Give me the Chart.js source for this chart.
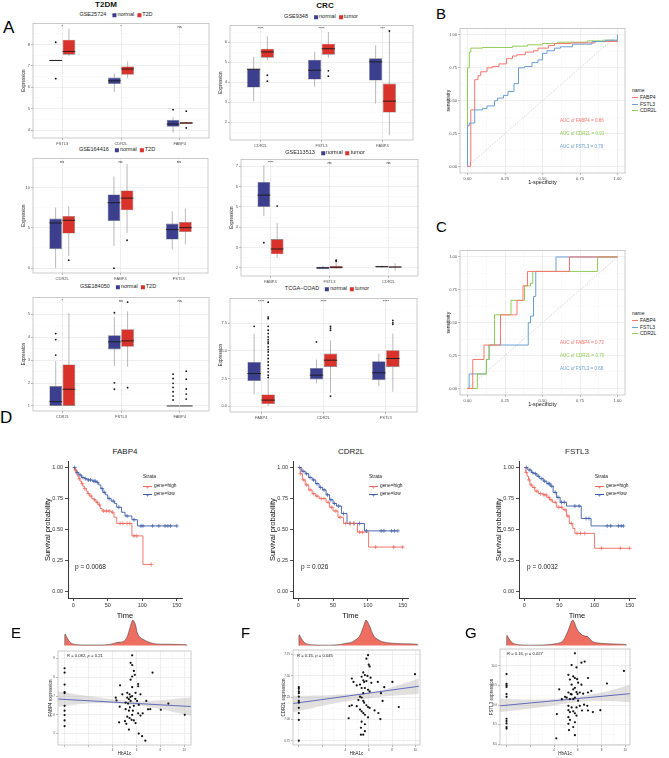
<!DOCTYPE html>
<html>
<head>
<meta charset="utf-8">
<script src="https://cdn.jsdelivr.net/npm/chart.js@4.4.1/dist/chart.umd.min.js"></script>
<style>
body{margin:0;background:#fff;font-family:'Liberation Sans',Arial,sans-serif}
#fig{position:relative;width:669px;height:758px;overflow:hidden;background:#fff}
#fig canvas{position:absolute}
.t{position:absolute;line-height:1;white-space:nowrap;color:#111}
.sq{display:inline-block;width:4px;height:4px;margin:0 1px 0 3px;vertical-align:middle}
.ln{position:absolute;height:0}
</style>
</head>
<body>
<div id="fig"></div>
<script>
// ---------- box plot data: [min, q1, median, q3, max] ----------
const gse25724Cats = ['FSTL3', 'CDR2L', 'FABP4'];
const gse25724Normal = [[7.22, 7.22, 7.25, 7.28, 7.28], [5.78, 6.15, 6.3, 6.45, 6.64], [3.88, 4.15, 4.28, 4.47, 4.6]];
const gse25724Case = [[7.45, 7.52, 7.67, 8.22, 8.73], [6.42, 6.58, 6.85, 6.97, 7.2], [4.28, 4.28, 4.33, 4.38, 4.38]];
const gse25724NormalOut = [[8.1, 6.4], [], [4.95]];
const gse25724CaseOut = [[], [], [4.88, 4.1]];
const gse25724Sig = ['*', '*', 'ns'];

const gse9348Cats = ['CDR2L', 'FSTL3', 'FABP4'];
const gse9348Normal = [[3.05, 3.73, 4.65, 4.68, 5.27], [3.77, 4.13, 4.6, 5.13, 5.52], [2.93, 4.08, 5.02, 5.2, 5.85]];
const gse9348Case = [[5.1, 5.23, 5.52, 5.68, 6.3], [5.22, 5.38, 5.68, 5.93, 6.52], [1.35, 2.48, 3.05, 3.93, 6.52]];
const gse9348NormalOut = [[], [], []];
const gse9348CaseOut = [[4.35, 4.05], [4.57, 4.3], [6.57]];
const gse9348Sig = ['****', '****', '***'];

const gse164416Cats = ['CDR2L', 'FABP4', 'FSTL3'];
const gse164416Normal = [[0, 2.35, 5.6, 6.14, 7.5], [2.72, 5.84, 8.11, 9.14, 11.36], [2.31, 3.54, 4.78, 5.52, 7.04]];
const gse164416Case = [[1.48, 4.28, 5.93, 6.46, 7.65], [4.36, 7.16, 8.68, 9.63, 12.9], [2.96, 4.48, 5.02, 5.72, 7.37]];
const gse164416NormalOut = [[], [0], []];
const gse164416CaseOut = [[0.99], [3.46], []];
const gse164416Sig = ['ns', 'ns', 'ns'];

const gse113513Cats = ['FABP4', 'FSTL3', 'CDR2L'];
const gse113513Normal = [[4.55, 5.0, 5.58, 6.23, 7.05], [1.92, 1.94, 2.0, 2.06, 2.1], [1.98, 2.02, 2.06, 2.1, 2.12]];
const gse113513Case = [[2.5, 2.67, 2.93, 3.42, 4.22], [1.95, 1.97, 2.03, 2.1, 2.26], [1.87, 2.0, 2.04, 2.08, 2.23]];
const gse113513NormalOut = [[3.24], [], []];
const gse113513CaseOut = [[5.04], [2.38, 2.32], []];
const gse113513Sig = ['****', 'ns', 'ns'];

const gse184050Cats = ['CDR2L', 'FSTL3', 'FABP4'];
const gse184050Normal = [[1.0, 1.0, 1.19, 1.87, 2.96], [2.74, 3.47, 3.8, 4.09, 4.88], [1, 1, 1, 1, 1]];
const gse184050Case = [[1.0, 1.0, 1.73, 2.81, 5.06], [2.71, 3.58, 3.84, 4.35, 5.13], [1, 1, 1, 1, 1]];
const gse184050NormalOut = [[3.22, 3.9, 4.16], [5.07, 2.01, 1.73], [1.26, 1.43, 1.62, 1.81, 1.99, 2.2, 2.39]];
const gse184050CaseOut = [[], [5.53, 1.8], [1.3, 1.52, 1.74, 2.17, 2.52]];
const gse184050Sig = ['*', 'ns', 'ns'];

const tcgaCats = ['FABP4', 'CDR2L', 'FSTL3'];
const tcgaNormal = [[1.05, 2.26, 2.95, 4.0, 6.57], [2.05, 2.41, 2.8, 3.46, 4.22], [1.81, 2.35, 3.01, 4.07, 4.76]];
const tcgaCase = [[0, 0.18, 0.54, 1.05, 2.41], [1.2, 3.55, 4.16, 4.76, 5.96], [1.29, 3.55, 4.31, 5.06, 6.57]];
const tcgaNormalOut = [[7.23], [5.81], []];
const tcgaCaseOut = [[2.59, 2.8, 3.1, 3.4, 3.7, 4.0, 4.31, 4.61, 4.91, 5.12, 5.36, 5.66, 5.81, 6.02, 6.27, 6.57, 6.87, 7.23, 7.92, 8.07, 9.42], [7.07, 6.87, 7.23, 0.9], [7.77, 7.56, 7.41]];
const tcgaSig = ['****', '****', '****'];

// ---------- ROC curves: [1-specificity, sensitivity] ----------
const rocGenes = ['FABP4', 'FSTL3', 'CDR2L'];
const rocBFabp4 = [[0, 0], [0.02, 0.04], [0.022, 0.43], [0.048, 0.66], [0.07, 0.69], [0.088, 0.72], [0.13, 0.75], [0.165, 0.76], [0.21, 0.78], [0.26, 0.82], [0.3, 0.84], [0.33, 0.85], [0.385, 0.87], [0.44, 0.88], [0.47, 0.9], [0.54, 0.92], [0.58, 0.935], [0.69, 0.94], [0.85, 0.95], [1, 1]];
const rocBFstl3 = [[0, 0], [0, 0.31], [0.012, 0.33], [0.048, 0.43], [0.1, 0.44], [0.13, 0.46], [0.18, 0.5], [0.2, 0.52], [0.24, 0.54], [0.27, 0.57], [0.31, 0.63], [0.34, 0.75], [0.38, 0.76], [0.43, 0.79], [0.47, 0.81], [0.5, 0.86], [0.53, 0.88], [0.58, 0.9], [0.62, 0.91], [0.7, 0.93], [0.83, 0.95], [0.92, 0.96], [1, 1]];
const rocBCdr2l = [[0, 0], [0, 0.75], [0.012, 0.87], [0.022, 0.9], [0.1, 0.905], [0.3, 0.915], [0.4, 0.925], [0.5, 0.935], [0.6, 0.945], [0.8, 0.955], [0.9, 0.96], [1, 1]];
const rocCFabp4 = [[0, 0], [0.035, 0.22], [0.11, 0.33], [0.22, 0.56], [0.33, 0.67], [0.37, 0.78], [0.4, 0.89], [0.68, 1], [1, 1]];
const rocCFstl3 = [[0, 0], [0.011, 0.11], [0.126, 0.22], [0.144, 0.33], [0.405, 0.5], [0.42, 0.55], [0.44, 0.7], [0.455, 0.89], [0.59, 1], [1, 1]];
const rocCCdr2l = [[0, 0], [0.066, 0.11], [0.126, 0.22], [0.144, 0.33], [0.18, 0.56], [0.29, 0.67], [0.38, 0.78], [0.42, 0.8], [0.435, 0.89], [0.867, 1], [1, 1]];
const rocDiag = [[0, 0], [1, 1]];
const aucLabels = ['FABP4', 'CDR2L', 'FSTL3'];
const aucB = ['0.86', '0.93', '0.78'];
const aucC = ['0.73', '0.70', '0.68'];

// ---------- Kaplan-Meier: [time, survival] ----------
const kmFabp4High = [[0, 1], [2, 0.98], [4, 0.95], [6, 0.93], [8, 0.91], [10, 0.89], [12, 0.87], [14, 0.85], [16, 0.83], [19, 0.81], [21, 0.79], [24, 0.77], [27, 0.75], [30, 0.74], [33, 0.72], [36, 0.7], [39, 0.67], [42, 0.65], [55, 0.64], [59, 0.6], [63, 0.55], [85, 0.45], [101, 0.22], [113, 0.22]];
const kmFabp4Low = [[0, 1], [3, 0.98], [5, 0.96], [8, 0.94], [12, 0.92], [16, 0.91], [20, 0.9], [28, 0.89], [34, 0.88], [37, 0.86], [40, 0.83], [43, 0.8], [47, 0.78], [50, 0.75], [55, 0.73], [60, 0.71], [63, 0.68], [70, 0.64], [75, 0.61], [85, 0.58], [93, 0.53], [150, 0.53]];
const kmFabp4HighCens = [[3, 0.98], [9, 0.91], [13, 0.87], [17, 0.83], [22, 0.79], [26, 0.77], [31, 0.74], [35, 0.72], [38, 0.7], [44, 0.65], [48, 0.65], [52, 0.65], [57, 0.64], [68, 0.55], [72, 0.55], [78, 0.55], [82, 0.55], [88, 0.45], [92, 0.45], [113, 0.22]];
const kmFabp4LowCens = [[2, 1], [6, 0.96], [10, 0.94], [14, 0.92], [18, 0.91], [22, 0.9], [25, 0.9], [30, 0.89], [32, 0.89], [35, 0.88], [42, 0.83], [45, 0.8], [52, 0.75], [58, 0.73], [66, 0.68], [78, 0.61], [88, 0.58], [98, 0.53], [101, 0.53], [115, 0.53], [124, 0.53], [133, 0.53], [137, 0.53], [141, 0.53], [150, 0.53]];

const kmCdr2lHigh = [[0, 1], [3, 0.95], [6, 0.9], [10, 0.86], [15, 0.82], [20, 0.79], [25, 0.77], [30, 0.75], [40, 0.72], [45, 0.68], [50, 0.65], [57, 0.6], [65, 0.55], [85, 0.48], [101, 0.36], [150, 0.36]];
const kmCdr2lLow = [[0, 1], [5, 0.97], [10, 0.95], [15, 0.92], [20, 0.9], [25, 0.87], [30, 0.84], [35, 0.82], [40, 0.78], [45, 0.74], [50, 0.71], [55, 0.69], [62, 0.63], [70, 0.55], [95, 0.49], [143, 0.49]];
const kmCdr2lHighCens = [[3, 0.95], [8, 0.9], [12, 0.86], [17, 0.82], [22, 0.79], [27, 0.77], [33, 0.75], [37, 0.75], [43, 0.72], [48, 0.68], [54, 0.65], [60, 0.6], [68, 0.55], [75, 0.55], [80, 0.55], [88, 0.48], [92, 0.48], [111, 0.36], [137, 0.36], [150, 0.36]];
const kmCdr2lLowCens = [[2, 1], [7, 0.97], [12, 0.95], [17, 0.92], [22, 0.9], [27, 0.87], [32, 0.84], [37, 0.82], [42, 0.78], [47, 0.74], [52, 0.71], [58, 0.69], [65, 0.63], [74, 0.55], [80, 0.55], [88, 0.55], [98, 0.49], [119, 0.49], [123, 0.49], [134, 0.49], [138, 0.49], [143, 0.49]];

const kmFstl3High = [[0, 1], [2, 0.96], [4, 0.93], [6, 0.9], [8, 0.86], [11, 0.84], [15, 0.81], [20, 0.79], [27, 0.78], [32, 0.76], [36, 0.74], [40, 0.72], [46, 0.68], [55, 0.66], [60, 0.61], [64, 0.55], [69, 0.51], [72, 0.47], [100, 0.35], [150, 0.35]];
const kmFstl3Low = [[0, 1], [5, 0.98], [10, 0.96], [13, 0.95], [18, 0.93], [22, 0.91], [27, 0.89], [32, 0.87], [37, 0.85], [41, 0.8], [46, 0.76], [51, 0.72], [60, 0.69], [81, 0.59], [95, 0.53], [141, 0.53]];
const kmFstl3HighCens = [[3, 0.96], [7, 0.9], [10, 0.86], [14, 0.84], [18, 0.81], [23, 0.79], [28, 0.78], [31, 0.78], [35, 0.76], [38, 0.74], [44, 0.72], [49, 0.68], [53, 0.68], [58, 0.66], [62, 0.61], [67, 0.55], [75, 0.47], [80, 0.47], [86, 0.47], [110, 0.35], [137, 0.35], [150, 0.35]];
const kmFstl3LowCens = [[3, 1], [8, 0.98], [12, 0.96], [16, 0.95], [20, 0.93], [25, 0.91], [29, 0.89], [34, 0.87], [36, 0.87], [39, 0.85], [44, 0.8], [48, 0.76], [53, 0.72], [57, 0.72], [72, 0.69], [78, 0.69], [88, 0.59], [92, 0.59], [118, 0.53], [123, 0.53], [134, 0.53], [138, 0.53], [141, 0.53]];

// ---------- correlation panels: [HbA1c, expression] ----------
const corrEPts = [[0, 8.48], [0, 8.25], [0, 7.61], [0, 7.21], [0, 7.16], [0, 6.48], [0, 6.22], [0, 5.99], [0, 5.7], [0, 5.4],
  [5.64, 9.17], [5.51, 8.77], [5.64, 8.65], [5.78, 8.34], [5.86, 8.13], [5.64, 8.04], [7.34, 8.25], [5.51, 7.87], [6.14, 7.64], [4.63, 7.57],
  [6.14, 7.52], [5.64, 7.47], [5.23, 7.17], [5.42, 7.09], [5.92, 7.17], [6.33, 7.09], [5.23, 6.91], [5.37, 6.83], [5.51, 6.74], [5.64, 7.0],
  [4.27, 6.91], [4.33, 6.77], [6.05, 6.74], [6.82, 6.74], [4.6, 6.43], [5.1, 6.3], [5.37, 6.22], [5.7, 6.22], [6.14, 6.08], [6.96, 6.29],
  [7.15, 6.3], [8.03, 6.27], [8.66, 6.6], [10.03, 6.0], [5.64, 6.0], [5.23, 5.9], [5.42, 5.83], [5.59, 5.73], [5.78, 5.7], [5.04, 5.66],
  [5.15, 5.52], [4.55, 5.6], [5.92, 5.56], [6.33, 5.96], [6.52, 6.08], [5.37, 5.21], [6.19, 5.0], [6.47, 4.86], [6.74, 4.62], [5.1, 6.65],
  [5.78, 6.48], [6.19, 6.53], [4.82, 7.09], [5.5, 6.95], [5.3, 6.6], [5.9, 6.85], [5.45, 6.4]];
const corrEFit = [[-0.55, 6.84], [10.55, 6.44]];
const corrEHi = [[-0.55, 7.26], [2, 7.0], [5.6, 6.74], [8, 6.78], [10.55, 6.93]];
const corrELo = [[-0.55, 6.43], [2, 6.6], [5.6, 6.53], [8, 6.3], [10.55, 5.95]];
const densETop = [[0, 0], [0.02, 0.45], [0.2, 0.3], [0.5, 0.1], [1, 0.03], [2, 0.02], [3, 0.02], [3.8, 0.05], [4.3, 0.12], [4.8, 0.15], [5.1, 0.3], [5.4, 0.75], [5.6, 1.0], [5.8, 0.85], [6.0, 0.45], [6.3, 0.28], [6.6, 0.2], [7.0, 0.12], [7.5, 0.06], [8.5, 0.05], [9.5, 0.04], [10, 0.03], [10.05, 0]];
const densESide = [[9.17, 0], [8.65, 0.11], [7.78, 0.28], [7.43, 0.5], [7.09, 0.83], [6.83, 1.0], [6.57, 0.94], [6.22, 0.81], [5.96, 0.81], [5.7, 0.61], [5.35, 0.39], [5.0, 0.19], [4.65, 0.02]];

const corrFPts = [[0, 7.37], [0, 7.35], [0, 7.32], [0, 7.3], [0, 7.26], [0, 7.21], [0, 7.19], [0, 7.13], [0, 7.07], [0, 6.99], [0, 6.75],
  [5.94, 7.74], [5.8, 7.7], [6.0, 7.63], [6.08, 7.61], [5.53, 7.54], [5.67, 7.51], [5.39, 7.49], [5.89, 7.5], [6.16, 7.48], [5.53, 7.45],
  [5.61, 7.43], [5.8, 7.44], [4.55, 7.47], [4.69, 7.43], [5.25, 7.4], [4.97, 7.39], [6.22, 7.42], [6.78, 7.43], [8.03, 7.43], [5.39, 7.36],
  [5.67, 7.36], [5.94, 7.34], [6.08, 7.32], [5.53, 7.3], [5.25, 7.26], [5.39, 7.25], [5.11, 7.22], [5.53, 7.21], [5.61, 7.19], [5.8, 7.16],
  [4.97, 7.15], [4.35, 7.15], [4.55, 7.16], [5.94, 7.14], [6.08, 7.13], [5.25, 7.11], [5.39, 7.09], [5.53, 7.07], [5.67, 7.05], [6.5, 7.1],
  [6.83, 7.07], [7.19, 7.21], [7.05, 7.3], [7.33, 7.37], [8.58, 7.14], [9.97, 7.52], [4.28, 7.01], [5.94, 7.02], [5.39, 6.97], [5.67, 6.94],
  [7.0, 7.0], [5.33, 6.9], [5.67, 6.86], [5.53, 6.82], [5.33, 6.82]];
const corrFFit = [[-0.5, 7.18], [10.3, 7.38]];
const corrFHi = [[-0.5, 7.27], [3, 7.28], [6, 7.31], [8, 7.37], [10.3, 7.47]];
const corrFLo = [[-0.5, 7.08], [3, 7.18], [6, 7.24], [8, 7.27], [10.3, 7.29]];
const densFTop = [[0, 0], [0.02, 0.42], [0.2, 0.28], [0.5, 0.1], [1, 0.03], [3, 0.02], [4.2, 0.1], [4.55, 0.15], [5.1, 0.35], [5.5, 0.8], [5.67, 1.0], [5.94, 0.8], [6.36, 0.35], [7.05, 0.15], [8.2, 0.08], [10, 0.05], [10.05, 0]];
const densFSide = [[7.74, 0], [7.62, 0.15], [7.51, 0.45], [7.39, 0.8], [7.28, 1.0], [7.17, 0.9], [7.05, 0.6], [6.94, 0.3], [6.82, 0.1], [6.75, 0.01]];

const corrGPts = [[0, 9.79], [0, 9.54], [0, 9.5], [0, 9.46], [0, 9.28], [0, 9.21], [0, 8.65], [0, 8.59], [0, 8.53], [0, 8.44], [0, 8.4],
  [5.76, 10.32], [5.48, 10.02], [5.89, 9.96], [6.31, 10.08], [6.58, 10.11], [5.21, 9.77], [5.62, 9.73], [5.76, 9.69], [5.95, 9.66], [6.86, 9.69],
  [5.34, 9.65], [5.48, 9.52], [6.03, 9.57], [6.31, 9.52], [5.76, 9.44], [5.62, 9.4], [5.21, 9.32], [5.4, 9.28], [5.48, 9.27], [5.89, 9.33],
  [5.98, 9.28], [6.17, 9.32], [6.45, 9.29], [6.86, 9.32], [7.14, 9.36], [8.46, 9.55], [9.89, 9.87], [4.44, 9.4], [4.93, 9.21], [5.07, 9.19],
  [5.34, 9.15], [5.62, 9.15], [5.76, 9.19], [6.03, 9.11], [4.66, 9.15], [5.21, 8.98], [5.48, 8.94], [5.89, 8.94], [6.17, 8.98], [6.53, 9.01],
  [6.8, 8.98], [5.21, 8.87], [5.34, 8.82], [5.62, 8.84], [5.76, 8.79], [5.89, 8.73], [6.36, 8.86], [6.86, 8.86], [7.27, 8.82], [7.9, 8.87],
  [4.24, 8.77], [5.21, 8.69], [5.34, 8.62], [5.21, 8.52], [5.76, 8.56], [5.62, 8.44], [5.26, 8.36], [5.76, 8.23], [4.19, 8.15]];
const corrGFit = [[-0.55, 8.98], [10.4, 9.29]];
const corrGHi = [[-0.55, 9.16], [3, 9.14], [5.5, 9.2], [8, 9.32], [10.4, 9.52]];
const corrGLo = [[-0.55, 8.82], [3, 8.95], [5.5, 9.06], [8, 9.1], [10.4, 9.07]];
const densGTop = [[0, 0], [0.02, 0.4], [0.2, 0.26], [0.5, 0.1], [1, 0.03], [3, 0.02], [4.2, 0.08], [4.66, 0.18], [5.07, 0.55], [5.48, 1.0], [5.89, 0.6], [6.3, 0.4], [6.72, 0.35], [7.14, 0.15], [8, 0.08], [9.9, 0.04], [9.95, 0]];
const densGSide = [[10.32, 0], [10.02, 0.1], [9.78, 0.35], [9.53, 0.7], [9.28, 1.0], [9.11, 0.95], [8.86, 0.65], [8.61, 0.35], [8.36, 0.12], [8.15, 0.01]];

// ---------- styling ----------
const NAVY = '#3c3f8d', RED = '#d8322b';
const KM_RED = '#ef6a5e', KM_BLUE = '#3d5ea9';
const ROC_RED = '#f8766d', ROC_BLUE = '#6b9fd3', ROC_GREEN = '#92cc56';
const DENS_RED = '#ee6e62', DENS_BLUE = '#383d88';

Chart.defaults.font.family = "'Liberation Sans', Arial, sans-serif";
Chart.defaults.animation = false;
Chart.defaults.responsive = false;
Chart.defaults.plugins.legend.display = false;
Chart.defaults.plugins.tooltip.enabled = false;
Chart.defaults.color = '#4d4d4d';

const framePlugin = {
  id: 'frame',
  afterDatasetsDraw(chart, args, opts) {
    if (!opts.color) return;
    const a = chart.chartArea, ctx = chart.ctx;
    ctx.save();
    ctx.strokeStyle = opts.color;
    ctx.lineWidth = 0.8;
    ctx.strokeRect(a.left, a.top, a.width, a.height);
    ctx.restore();
  }
};
Chart.register(framePlugin);

// whiskers under the boxes, medians / outliers / significance on top
const boxPlugin = {
  id: 'boxes',
  beforeDatasetsDraw(chart) {
    const ctx = chart.ctx, y = chart.scales.y;
    ctx.save();
    ctx.strokeStyle = '#8a8a8a';
    ctx.lineWidth = 0.6;
    chart.data.datasets.forEach((ds, i) => {
      const meta = chart.getDatasetMeta(i);
      ds.stats.forEach((s, j) => {
        const bar = meta.data[j];
        ctx.beginPath();
        ctx.moveTo(bar.x, y.getPixelForValue(s[0]));
        ctx.lineTo(bar.x, y.getPixelForValue(s[4]));
        ctx.stroke();
      });
    });
    ctx.restore();
  },
  afterDatasetsDraw(chart, args, opts) {
    const ctx = chart.ctx, y = chart.scales.y, x = chart.scales.x;
    ctx.save();
    chart.data.datasets.forEach((ds, i) => {
      const meta = chart.getDatasetMeta(i);
      ds.stats.forEach((s, j) => {
        const bar = meta.data[j], py = y.getPixelForValue(s[2]);
        ctx.strokeStyle = '#1a1a1a';
        ctx.lineWidth = 0.9;
        ctx.beginPath();
        ctx.moveTo(bar.x - bar.width / 2, py);
        ctx.lineTo(bar.x + bar.width / 2, py);
        ctx.stroke();
        ctx.fillStyle = '#111';
        ds.out[j].forEach(v => {
          ctx.beginPath();
          ctx.arc(bar.x, y.getPixelForValue(v), 0.9, 0, Math.PI * 2);
          ctx.fill();
        });
      });
    });
    ctx.fillStyle = '#222';
    ctx.font = "4px 'Liberation Sans', Arial";
    ctx.textAlign = 'center';
    ctx.textBaseline = 'middle';
    (opts.sig || []).forEach((s, j) => ctx.fillText(s, x.getPixelForValue(j), chart.chartArea.top + 3));
    ctx.restore();
  }
};

const root = document.getElementById('fig');
function addCanvas(left, top, w, h) {
  const c = document.createElement('canvas');
  c.width = w; c.height = h;
  c.style.left = left + 'px'; c.style.top = top + 'px';
  c.style.width = w + 'px'; c.style.height = h + 'px';
  root.appendChild(c);
  return c;
}
function txt(html, x, y, size, o = {}) {
  const d = document.createElement('div');
  d.className = 't';
  d.innerHTML = html;
  let tr = o.center ? 'translate(-50%,-50%)' : 'translate(0,-50%)';
  if (o.rotate) tr += ' rotate(-90deg)';
  d.style.cssText += `left:${x}px;top:${y}px;font-size:${size}px;transform:${tr};` +
    (o.color ? `color:${o.color};` : '') + (o.bold ? 'font-weight:bold;' : '');
  root.appendChild(d);
}
function hline(x, y, w, color, lw) {
  const d = document.createElement('div');
  d.className = 'ln';
  d.style.cssText = `left:${x}px;top:${y}px;width:${w}px;border-top:${lw}px solid ${color}`;
  root.appendChild(d);
}

function isMajor(v, step) { const r = v / step; return Math.abs(r - Math.round(r)) < 1e-6; }
function linAxis(min, max, step, major, fmt, size, show) {
  return {
    type: 'linear', min, max,
    border: { display: false },
    grid: {
      color: c => isMajor(c.tick.value, major) ? '#e6e6e6' : '#f3f3f3',
      lineWidth: c => isMajor(c.tick.value, major) ? 0.7 : 0.4,
      tickColor: c => isMajor(c.tick.value, major) ? '#999' : 'rgba(0,0,0,0)',
      tickLength: 2
    },
    ticks: {
      stepSize: step, includeBounds: false, autoSkip: false, maxTicksLimit: 60, padding: 1,
      maxRotation: 0, color: '#4d4d4d', font: { size },
      callback: v => isMajor(v, major) && (!show || show(v)) ? fmt(v) : ''
    }
  };
}

// ---------- A: box plots ----------
function boxChart(f, cats, normal, cas, normalOut, caseOut, sig, ya) {
  const c = addCanvas(f.x - 12, f.y - 3, f.w + 15, f.h + 11);
  new Chart(c, {
    type: 'bar',
    data: {
      labels: cats,
      datasets: [
        { data: normal.map(s => [s[1], s[3]]), stats: normal, out: normalOut, backgroundColor: NAVY },
        { data: cas.map(s => [s[1], s[3]]), stats: cas, out: caseOut, backgroundColor: RED }
      ]
    },
    options: {
      devicePixelRatio: 1,
      layout: { padding: { top: 3, right: 3, left: 0, bottom: 0 } },
      datasets: { bar: { borderColor: '#7a7a7a', borderWidth: 0.6, borderSkipped: false, categoryPercentage: 0.45, barPercentage: 0.96 } },
      scales: {
        x: {
          border: { display: false },
          grid: { offset: false, color: '#e6e6e6', lineWidth: 0.7, tickLength: 2, tickColor: '#999' },
          ticks: { font: { size: 4 }, color: '#4d4d4d', padding: 1, maxRotation: 0 },
          afterFit: s => { s.height = 8; }
        },
        y: Object.assign(linAxis(ya.min, ya.max, ya.step, ya.major, ya.fmt, 4), {
          title: { display: true, text: 'Expression', font: { size: 4.5 }, padding: 0, color: '#222' },
          afterFit: s => { s.width = 12; }
        })
      },
      plugins: { frame: { color: '#bdbdbd' }, boxes: { sig } }
    },
    plugins: [boxPlugin]
  });
}
const intFmt = v => String(Math.round(v));
boxChart({ x: 33, y: 23, w: 176, h: 115 }, gse25724Cats, gse25724Normal, gse25724Case, gse25724NormalOut, gse25724CaseOut, gse25724Sig,
  { min: 3.63, max: 8.98, step: 0.5, major: 1, fmt: intFmt });
boxChart({ x: 230, y: 25, w: 183, h: 115 }, gse9348Cats, gse9348Normal, gse9348Case, gse9348NormalOut, gse9348CaseOut, gse9348Sig,
  { min: 1.1, max: 6.85, step: 0.5, major: 1, fmt: intFmt });
boxChart({ x: 33, y: 158, w: 175, h: 115 }, gse164416Cats, gse164416Normal, gse164416Case, gse164416NormalOut, gse164416CaseOut, gse164416Sig,
  { min: -0.6, max: 13.6, step: 2.5, major: 5, fmt: intFmt });
boxChart({ x: 241, y: 159, w: 177, h: 117 }, gse113513Cats, gse113513Normal, gse113513Case, gse113513NormalOut, gse113513CaseOut, gse113513Sig,
  { min: 1.6, max: 7.34, step: 0.5, major: 1, fmt: intFmt });
boxChart({ x: 33, y: 297, w: 176, h: 114 }, gse184050Cats, gse184050Normal, gse184050Case, gse184050NormalOut, gse184050CaseOut, gse184050Sig,
  { min: 0.78, max: 5.74, step: 0.5, major: 1, fmt: intFmt });
boxChart({ x: 230, y: 298, w: 187, h: 114 }, tcgaCats, tcgaNormal, tcgaCase, tcgaNormalOut, tcgaCaseOut, tcgaSig,
  { min: -0.54, max: 9.76, step: 1.25, major: 2.5, fmt: v => v.toFixed(1) });

function boxHeader(id, caseName, cx, y) {
  txt(`${id}&nbsp;&nbsp;<span class="sq" style="background:${NAVY}"></span>normal<span class="sq" style="background:${RED}"></span>${caseName}`,
    cx, y, 5.5, { center: true, color: '#222' });
}
boxHeader('GSE25724', 'T2D', 116, 15);
boxHeader('GSE9348', 'tumor', 321, 17);
boxHeader('GSE164416', 'T2D', 117, 150);
boxHeader('GSE113513', 'tumor', 325, 153);
boxHeader('GSE184050', 'T2D', 118, 287);
boxHeader('TCGA−COAD', 'tumor', 327, 289);
txt('T2DM', 106, 5, 8, { center: true, bold: true });
txt('CRC', 325, 6, 8, { center: true, bold: true });

// ---------- B / C: ROC ----------
function rocChart(f, series) {
  const c = addCanvas(f.x - 14, f.y - 3, f.w + 17, f.h + 16);
  new Chart(c, {
    type: 'scatter',
    data: {
      datasets: series.map(s => ({ data: s.data, borderColor: s.color, borderWidth: 1, showLine: true, stepped: 'before', pointRadius: 0 }))
        .concat([{ data: rocDiag, borderColor: '#b8b8b8', borderWidth: 0.6, borderDash: [1.5, 1.5], showLine: true, pointRadius: 0 }])
    },
    options: {
      devicePixelRatio: 1,
      layout: { padding: { top: 3, right: 3, left: 0, bottom: 0 } },
      scales: {
        x: Object.assign(linAxis(-0.05, 1.05, 0.125, 0.25, v => v.toFixed(2), 4), {
          title: { display: true, text: '1-specificity', font: { size: 5.5 }, padding: 0, color: '#111' },
          afterFit: s => { s.height = 13; }
        }),
        y: Object.assign(linAxis(-0.05, 1.05, 0.125, 0.25, v => v.toFixed(2), 4), {
          title: { display: true, text: 'sensitivity', font: { size: 5 }, padding: 0, color: '#111' },
          afterFit: s => { s.width = 14; }
        })
      },
      plugins: { frame: { color: '#bdbdbd' } }
    }
  });
}
const rocColors = [ROC_RED, ROC_BLUE, ROC_GREEN];
const aucColors = [ROC_RED, ROC_GREEN, ROC_BLUE];
rocChart({ x: 460, y: 28, w: 165, h: 145 }, [
  { data: rocBFstl3, color: ROC_BLUE }, { data: rocBFabp4, color: ROC_RED }, { data: rocBCdr2l, color: ROC_GREEN }]);
rocChart({ x: 460, y: 250, w: 165, h: 145 }, [
  { data: rocCFabp4, color: ROC_RED }, { data: rocCCdr2l, color: ROC_GREEN }, { data: rocCFstl3, color: ROC_BLUE }]);
function rocLegend(x, y) {
  txt('name', x, y, 5, { color: '#222' });
  rocGenes.forEach((g, i) => {
    hline(x, y + 7 + i * 6.6, 6, rocColors[i], 1);
    txt(g, x + 8, y + 7 + i * 6.6, 5, { color: '#222' });
  });
}
rocLegend(632, 90);
rocLegend(632, 313);
aucLabels.forEach((g, i) => {
  txt(`AUC of ${g} = ${aucB[i]}`, 560, 121 + i * 13, 4.5, { color: aucColors[i] });
  txt(`AUC of ${g} = ${aucC[i]}`, 560, 343 + i * 13, 4.5, { color: aucColors[i] });
});

// ---------- D: survival ----------
function kmChart(f, high, low, highCens, lowCens) {
  const c = addCanvas(f.x - 25, f.y - 3, f.w + 33, f.h + 25);
  const axisCommon = {
    border: { display: true, color: '#222', width: 0.9 },
    grid: { drawOnChartArea: false, drawTicks: true, tickLength: 3, color: '#222', lineWidth: 0.8 }
  };
  new Chart(c, {
    type: 'scatter',
    data: {
      datasets: [
        { data: highCens, pointStyle: 'cross', pointRadius: 2, borderColor: KM_RED, borderWidth: 0.7 },
        { data: lowCens, pointStyle: 'cross', pointRadius: 2, borderColor: KM_BLUE, borderWidth: 0.7 },
        { data: high, showLine: true, stepped: 'before', pointRadius: 0, borderColor: KM_RED, borderWidth: 0.9 },
        { data: low, showLine: true, stepped: 'before', pointRadius: 0, borderColor: KM_BLUE, borderWidth: 0.9 }
      ]
    },
    options: {
      devicePixelRatio: 1,
      layout: { padding: { top: 3, right: 8, left: 0, bottom: 0 } },
      scales: {
        x: Object.assign({}, axisCommon, {
          type: 'linear', min: -7.5, max: 157.5,
          ticks: { stepSize: 50, includeBounds: false, color: '#333', font: { size: 5.5 }, padding: 1, maxRotation: 0 },
          title: { display: true, text: 'Time', font: { size: 7.5 }, padding: 0, color: '#111' },
          afterFit: s => { s.height = 22; }
        }),
        y: Object.assign({}, axisCommon, {
          type: 'linear', min: -0.05, max: 1.05,
          ticks: { stepSize: 0.25, includeBounds: false, color: '#333', font: { size: 5.5 }, padding: 2, callback: v => v.toFixed(2) },
          title: { display: true, text: 'Survival probability', font: { size: 7.5 }, padding: 0, color: '#111' },
          afterFit: s => { s.width = 25; }
        })
      }
    }
  });
}
kmChart({ x: 68, y: 459, w: 114, h: 139 }, kmFabp4High, kmFabp4Low, kmFabp4HighCens, kmFabp4LowCens);
kmChart({ x: 293, y: 459, w: 115, h: 139 }, kmCdr2lHigh, kmCdr2lLow, kmCdr2lHighCens, kmCdr2lLowCens);
kmChart({ x: 519, y: 459, w: 116, h: 139 }, kmFstl3High, kmFstl3Low, kmFstl3HighCens, kmFstl3LowCens);
function kmText(gene, p, tx, sx, px) {
  txt(gene, tx, 452, 8, { center: true, color: '#222' });
  txt('Strata', sx, 477, 4.8, { color: '#222' });
  [['gene=high', KM_RED], ['gene=low', KM_BLUE]].forEach(([s, col], i) => {
    const y = 486 + i * 8;
    hline(sx, y, 9, col, 1);
    txt('+', sx + 4.5, y + 0.5, 5, { center: true, color: col });
    txt(s, sx + 11, y, 4.8, { color: '#222' });
  });
  txt('p = ' + p, px, 567, 6.5, { color: '#222' });
}
kmText('FABP4', '0.0068', 125, 143, 75);
kmText('CDR2L', '0.026', 351, 369, 301);
kmText('FSTL3', '0.0032', 577, 595, 527);

// ---------- E / F / G: correlation with marginal densities ----------
function corrChart(f, yw, pts, fit, hi, lo, xr, ya, ylab) {
  const c = addCanvas(f.x - yw, f.y - 2, f.w + yw + 2, f.h + 13);
  new Chart(c, {
    type: 'scatter',
    data: {
      datasets: [
        { data: pts, pointRadius: 1.1, backgroundColor: '#111', borderWidth: 0 },
        { data: fit, showLine: true, pointRadius: 0, borderColor: '#3f4fb0', borderWidth: 0.8 },
        { data: hi, showLine: true, pointRadius: 0, borderWidth: 0, tension: 0.4, fill: '+1', backgroundColor: 'rgba(190,185,185,0.45)' },
        { data: lo, showLine: true, pointRadius: 0, borderWidth: 0, tension: 0.4 }
      ]
    },
    options: {
      devicePixelRatio: 1,
      layout: { padding: { top: 2, right: 2, left: 0, bottom: 0 } },
      scales: {
        x: Object.assign(linAxis(xr[0], xr[1], 1, 2, intFmt, 3, v => v >= 4), {
          title: { display: true, text: 'HbA1c', font: { size: 4.5 }, padding: 0, color: '#222' },
          afterFit: s => { s.height = 11; }
        }),
        y: Object.assign(linAxis(ya.min, ya.max, ya.step, ya.major, ya.fmt, 3), {
          title: { display: true, text: ylab, font: { size: 4.5 }, padding: 0, color: '#222' },
          afterFit: s => { s.width = yw; }
        })
      },
      plugins: { frame: { color: '#bdbdbd' } }
    }
  });
}
function topDens(f, xr, dens) {
  const c = addCanvas(f.x, 619, f.w, 27);
  new Chart(c, {
    type: 'line',
    data: { datasets: [{ data: dens, fill: 'origin', backgroundColor: DENS_RED, borderColor: '#333', borderWidth: 0.5, pointRadius: 0, tension: 0.3 }] },
    options: {
      devicePixelRatio: 1,
      layout: { padding: 0 },
      scales: { x: { type: 'linear', min: xr[0], max: xr[1], display: false }, y: { type: 'linear', min: -0.02, max: 1.04, display: false } }
    }
  });
}
function sideDens(x, w, f, ya, dens) {
  const c = addCanvas(x, f.y, w, f.h);
  new Chart(c, {
    type: 'line',
    data: { datasets: [{ data: dens, fill: 'origin', backgroundColor: DENS_BLUE, borderColor: '#222', borderWidth: 0.5, pointRadius: 0, tension: 0.3 }] },
    options: {
      devicePixelRatio: 1,
      indexAxis: 'y',
      layout: { padding: 0 },
      scales: { y: { type: 'linear', min: ya.min, max: ya.max, display: false }, x: { type: 'linear', min: 0, max: 1.02, display: false } }
    }
  });
}
const eFrame = { x: 58, y: 649, w: 135, h: 96 }, eX = [-0.55, 10.55], eY = { min: 4.39, max: 9.4, step: 0.5, major: 1, fmt: intFmt };
const fFrame = { x: 293, y: 648, w: 129, h: 97 }, fX = [-0.5, 10.4], fY = { min: 6.7, max: 7.8, step: 0.125, major: 0.25, fmt: v => v.toFixed(2) };
const gFrame = { x: 500, y: 647, w: 132, h: 98 }, gX = [-0.55, 10.4], gY = { min: 7.98, max: 10.43, step: 0.25, major: 0.5, fmt: v => v.toFixed(1) };
corrChart(eFrame, 10, corrEPts, corrEFit, corrEHi, corrELo, eX, eY, 'FABP4 expression');
corrChart(fFrame, 12, corrFPts, corrFFit, corrFHi, corrFLo, fX, fY, 'CDR2L expression');
corrChart(gFrame, 11, corrGPts, corrGFit, corrGHi, corrGLo, gX, gY, 'FSTL3 expression');
topDens(eFrame, eX, densETop);
topDens(fFrame, fX, densFTop);
topDens(gFrame, gX, densGTop);
sideDens(198, 31, eFrame, eY, densESide);
sideDens(429, 31, fFrame, fY, densFSide);
sideDens(637, 30, gFrame, gY, densGSide);
txt('<i>R</i> = 0.082, <i>p</i> = 0.21', 67, 656, 4.2, { color: '#222' });
txt('<i>R</i> = 0.15, <i>p</i> = 0.045', 297, 656, 4.2, { color: '#222' });
txt('<i>R</i> = 0.16, <i>p</i> = 0.027', 507, 654, 4.2, { color: '#222' });

// ---------- panel letters ----------
[['A', 3, 27, 17], ['B', 436, 13, 15], ['C', 436, 226, 15], ['D', 0, 417, 17], ['E', 11, 632, 15], ['F', 241, 632, 15], ['G', 465, 632, 15]]
  .forEach(([l, x, y, s]) => txt(l, x, y, s, { color: '#000' }));
</script>
</body>
</html>
